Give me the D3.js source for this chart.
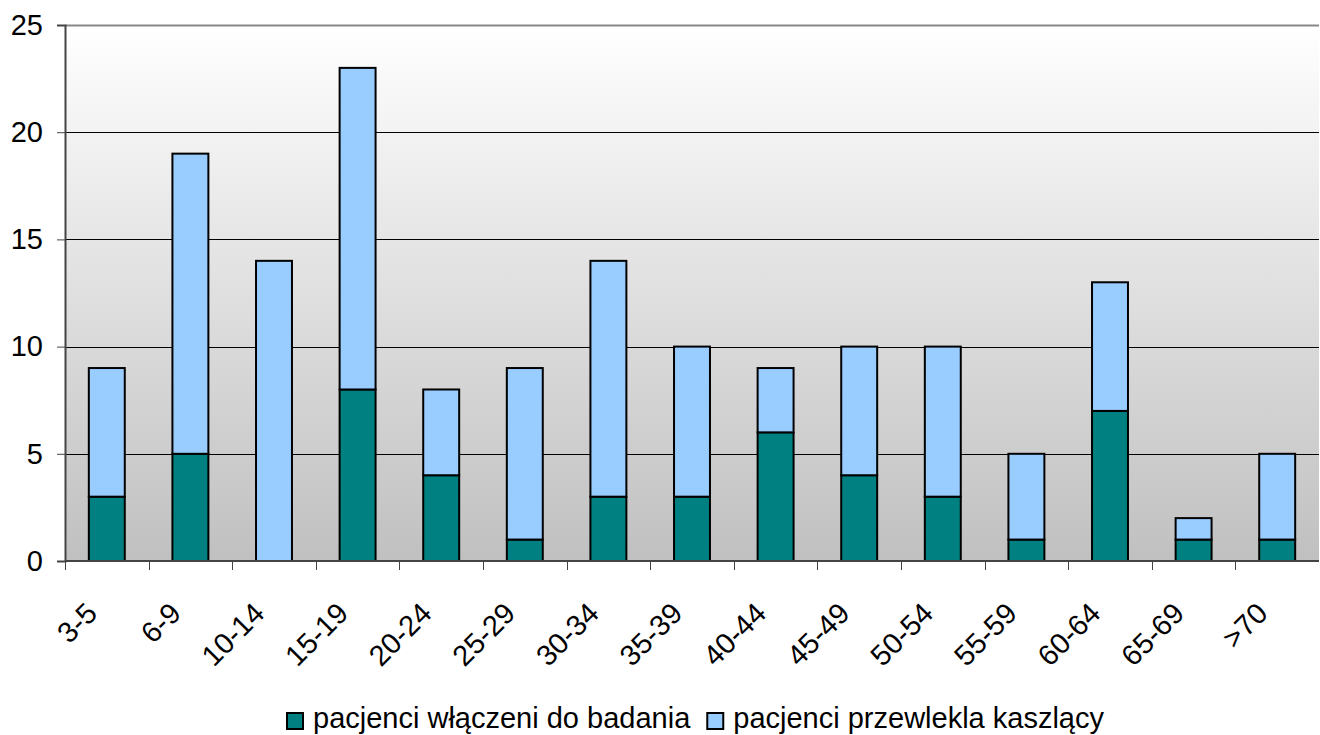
<!DOCTYPE html>
<html>
<head>
<meta charset="utf-8">
<script src="https://cdn.jsdelivr.net/npm/d3@7"></script>
<style>
  html, body { margin: 0; padding: 0; background: #fff; }
  svg { display: block; font-family: "Liberation Sans", Arial, sans-serif; }
</style>
</head>
<body>
<div id="chart"></div>
<script>
  const categories = ['3-5', '6-9', '10-14', '15-19', '20-24', '25-29', '30-34', '35-39',
    '40-44', '45-49', '50-54', '55-59', '60-64', '65-69', '>70'];
  const included = [3, 5, 0, 8, 4, 1, 3, 3, 6, 4, 3, 1, 7, 1, 1];
  const coughing = [6, 14, 14, 15, 4, 8, 11, 7, 3, 6, 7, 4, 6, 1, 4];
  const seriesNames = ['pacjenci włączeni do badania', 'pacjenci przewlekla kaszlący'];
  const seriesColors = ['#008080', '#99ccff'];
  const yTicks = [0, 5, 10, 15, 20, 25];

  const W = 1320, H = 735;
  const margin = { top: 25, right: 1, bottom: 174, left: 65 };
  const fontSize = 29;

  const svg = d3.select('#chart').append('svg')
    .attr('width', W)
    .attr('height', H);

  const defs = svg.append('defs');
  const grad = defs.append('linearGradient')
    .attr('id', 'bg')
    .attr('x1', 0).attr('y1', 0).attr('x2', 0).attr('y2', 1);
  grad.append('stop').attr('offset', '0%').attr('stop-color', '#ffffff');
  grad.append('stop').attr('offset', '100%').attr('stop-color', '#c0c0c0');

  const x = d3.scaleBand()
    .domain(categories)
    .range([margin.left, W - margin.right])
    .paddingInner(0.57)
    .paddingOuter(0.285);

  const y = d3.scaleLinear()
    .domain([0, 25])
    .range([H - margin.bottom, margin.top]);

  // plot background
  svg.append('rect')
    .attr('x', margin.left)
    .attr('y', margin.top)
    .attr('width', W - margin.right - margin.left)
    .attr('height', y(0) - margin.top)
    .attr('fill', 'url(#bg)');

  // gridlines
  svg.append('g')
    .selectAll('line')
    .data(yTicks.filter(d => d > 0))
    .join('line')
    .attr('x1', margin.left)
    .attr('x2', W - margin.right)
    .attr('y1', d => Math.round(y(d)) + 0.5)
    .attr('y2', d => Math.round(y(d)) + 0.5)
    .attr('stroke', d => d === 25 ? '#888' : '#000')
    .attr('stroke-width', d => d === 25 ? 2 : 1);

  // stacked bars
  const rows = categories.map((c, i) => ({ cat: c, a: included[i], b: coughing[i] }));
  const stack = d3.stack().keys(['a', 'b'])(rows);

  svg.append('g')
    .selectAll('g')
    .data(stack)
    .join('g')
    .attr('fill', (d, i) => seriesColors[i])
    .selectAll('rect')
    .data(d => d.filter(s => s[1] - s[0] > 0))
    .join('rect')
    .attr('x', d => x(d.data.cat))
    .attr('width', x.bandwidth())
    .attr('y', d => y(d[1]))
    .attr('height', d => y(d[0]) - y(d[1]))
    .attr('stroke', '#000')
    .attr('stroke-width', 2);

  // y axis
  const yAxis = svg.append('g')
    .attr('transform', `translate(${margin.left},0)`)
    .call(d3.axisLeft(y).tickValues(yTicks).tickSize(8).tickPadding(14));
  yAxis.select('.domain').attr('stroke', '#444').attr('stroke-width', 2);
  yAxis.selectAll('.tick line').attr('stroke', '#444');
  yAxis.selectAll('.tick text')
    .attr('font-size', fontSize)
    .attr('font-family', '"Liberation Sans", Arial, sans-serif')
    .attr('fill', '#000');

  // x axis
  const boundaries = categories.map(c => x(c) - x.step() * x.paddingInner() / 2);
  const xg = svg.append('g');
  xg.append('line')
    .attr('x1', margin.left)
    .attr('x2', W - margin.right)
    .attr('y1', y(0))
    .attr('y2', y(0))
    .attr('stroke', '#444')
    .attr('stroke-width', 2);
  xg.selectAll('line.tick')
    .data(boundaries)
    .join('line')
    .attr('class', 'tick')
    .attr('x1', d => Math.round(d) + 0.5)
    .attr('x2', d => Math.round(d) + 0.5)
    .attr('y1', y(0))
    .attr('y2', y(0) + 9)
    .attr('stroke', '#444');

  xg.selectAll('text')
    .data(categories)
    .join('text')
    .attr('transform', d => `translate(${x(d) + x.bandwidth() / 2 - 15},${y(0) + 47}) rotate(-45)`)
    .attr('text-anchor', 'end')
    .attr('dy', '0.35em')
    .attr('font-size', fontSize)
    .attr('fill', '#000')
    .text(d => d);

  // legend
  const legend = svg.append('g').attr('transform', 'translate(287,728)');
  let lx = 0;
  seriesNames.forEach((name, i) => {
    const g = legend.append('g').attr('transform', `translate(${lx},0)`);
    g.append('rect')
      .attr('x', 0).attr('y', -15)
      .attr('width', 16).attr('height', 16)
      .attr('fill', seriesColors[i])
      .attr('stroke', '#000')
      .attr('stroke-width', 2);
    const t = g.append('text')
      .attr('x', 26)
      .attr('y', 0)
      .attr('font-size', fontSize)
      .attr('fill', '#000')
      .text(name);
    lx += 26 + t.node().getComputedTextLength() + 17;
  });
</script>
</body>
</html>
